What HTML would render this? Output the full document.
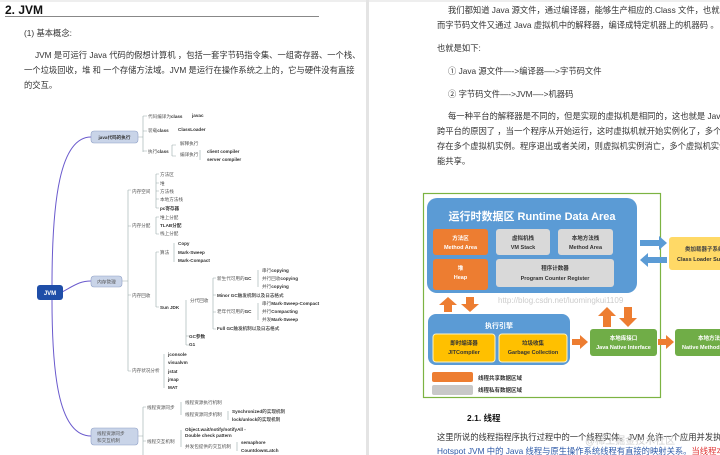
<!DOCTYPE html>
<html><head><meta charset="utf-8"><style>
html,body{margin:0;padding:0;background:#fff;width:720px;height:455px;overflow:hidden}
svg{display:block}
text{font-family:"Liberation Sans","Noto Sans CJK SC",sans-serif}
.t{font-size:8.3px;fill:#333}
.m{font-size:4.6px;fill:#555}
.mb{font-size:4.6px;fill:#333;font-weight:bold}
.w{fill:#fff;font-weight:bold}
</style></head><body>
<svg width="720" height="455" viewBox="0 0 720 455" xmlns="http://www.w3.org/2000/svg">
<rect width="720" height="455" fill="#fff"/>
<rect x="0" y="0" width="720" height="2" fill="#eee"/>
<rect x="366" y="0" width="3" height="455" fill="#e4e4e4"/>
<text x="5" y="14" style="font-size:12px;font-weight:bold;fill:#111">2. JVM</text>
<rect x="5" y="16" width="314" height="1" fill="#888"/>
<text x="24" y="36" class="t">(1) 基本概念:</text>
<text x="35" y="58" class="t">JVM 是可运行 Java 代码的假想计算机 ，包括一套字节码指令集、一组寄存器、一个栈、</text>
<text x="24" y="73" class="t">一个垃圾回收，堆 和 一个存储方法域。JVM 是运行在操作系统之上的，它与硬件没有直接</text>
<text x="24" y="88" class="t">的交互。</text>
<g fill="none" stroke="#6a5acd" stroke-width="1">
<path d="M52 286 C52 200 60 137 91 137"/>
<path d="M62 292 C75 285 80 281 91 281"/>
<path d="M52 300 C52 380 60 436 91 436"/>
</g>
<g fill="none" stroke="#9aa" stroke-width="0.6">
<path d="M138 137 H143 M143 116 V152 M143 116 H147 M143 131 H147 M143 151 H147"/>
<path d="M172 145 V156 M172 145 H176 M172 156 H176"/>
<path d="M200 150 V160"/>
<path d="M122 281 H128 M128 190 V371 M128 190 H131 M128 226 H131 M128 295 H131 M128 371 H131"/>
<path d="M156 174 V208 M156 174 H159 M156 183 H159 M156 191 H159 M156 199 H159 M156 208 H159"/>
<path d="M156 217 V234 M156 217 H159 M156 234 H159"/>
<path d="M156 252 V307 M156 252 H159 M156 307 H159"/>
<path d="M174 243 V262"/>
<path d="M186 300 V345 M186 336 H189 M186 345 H189"/>
<path d="M213 278 V329 M213 278 H216 M213 295 H216 M213 312 H216 M213 329 H216"/>
<path d="M258 270 V287 M258 303 V320"/>
<path d="M164 354 V388"/>
<path d="M138 436 H143 M143 407 V455 M143 407 H146 M143 441 H146"/>
<path d="M181 402 V415 M181 430 V447"/>
<path d="M228 411 V420 M237 442 V451"/>
</g>
<rect x="37" y="285" width="26" height="15" rx="3" fill="#1f4ea8"/>
<text x="50" y="295" text-anchor="middle" style="font-size:6px" class="w">JVM</text>
<rect x="91" y="131" width="47" height="12" rx="3" fill="#c9d4e8" stroke="#8fa0c6" stroke-width="0.6"/>
<text x="114.5" y="139" text-anchor="middle" class="mb">java代码的执行</text>
<rect x="91" y="276" width="31" height="11" rx="3" fill="#c9d4e8" stroke="#8fa0c6" stroke-width="0.6"/>
<text x="106.5" y="283.5" text-anchor="middle" class="m">内存管理</text>
<rect x="91" y="428" width="47" height="17" rx="3" fill="#c9d4e8" stroke="#8fa0c6" stroke-width="0.6"/>
<text x="97" y="435" class="m">线程资源同步</text><text x="97" y="442" class="m">和交互机制</text>
<text x="148" y="118" class="m">代码编译为<tspan class="mb">class</tspan></text>
<text x="192" y="117" class="mb">javac</text>
<text x="148" y="132" class="m">装载<tspan class="mb">class</tspan></text>
<text x="178" y="131" class="mb">ClassLoader</text>
<text x="148" y="153" class="m">执行<tspan class="mb">class</tspan></text>
<text x="180" y="145" class="m">解释执行</text>
<text x="180" y="156" class="m">编译执行</text>
<text x="207" y="153" class="mb">client compiler</text>
<text x="207" y="161" class="mb">server compiler</text>
<text x="132" y="193" class="m">内存空间</text>
<text x="160" y="176" class="m">方法区</text><text x="160" y="185" class="m">堆</text><text x="160" y="193" class="m">方法栈</text><text x="160" y="201" class="m">本地方法栈</text><text x="160" y="210" class="mb">pc寄存器</text>
<text x="132" y="227" class="m">内存分配</text>
<text x="160" y="219" class="m">堆上分配</text><text x="160" y="227" class="mb">TLAB分配</text><text x="160" y="235" class="m">栈上分配</text>
<text x="132" y="297" class="m">内存回收</text>
<text x="160" y="254" class="m">算法</text>
<text x="178" y="245" class="mb">Copy</text><text x="178" y="254" class="mb">Mark-Sweep</text><text x="178" y="262" class="mb">Mark-Compact</text>
<text x="160" y="309" class="mb">Sun JDK</text>
<text x="190" y="302" class="m">分代回收</text>
<text x="217" y="280" class="m">新生代可用的<tspan class="mb">GC</tspan></text>
<text x="262" y="272" class="m">串行<tspan class="mb">copying</tspan></text>
<text x="262" y="280" class="m">并行回收<tspan class="mb">copying</tspan></text>
<text x="262" y="288" class="m">并行<tspan class="mb">copying</tspan></text>
<text x="217" y="297" class="mb">Minor GC<tspan class="m">触发机制以及日志格式</tspan></text>
<text x="217" y="313" class="m">老年代可用的<tspan class="mb">GC</tspan></text>
<text x="262" y="305" class="m">串行<tspan class="mb">Mark-Sweep-Compact</tspan></text>
<text x="262" y="313" class="m">并行<tspan class="mb">Compacting</tspan></text>
<text x="262" y="321" class="m">并发<tspan class="mb">Mark-Sweep</tspan></text>
<text x="217" y="330" class="mb">Full GC<tspan class="m">触发机制以及日志格式</tspan></text>
<text x="189" y="338" class="mb">GC参数</text><text x="189" y="346" class="mb">G1</text>
<text x="132" y="372" class="m">内存状况分析</text>
<text x="168" y="356" class="mb">jconsole</text><text x="168" y="364" class="mb">visualvm</text><text x="168" y="373" class="mb">jstat</text><text x="168" y="381" class="mb">jmap</text><text x="168" y="389" class="mb">MAT</text>
<text x="147" y="409" class="m">线程资源同步</text>
<text x="185" y="404" class="m">线程资源执行机制</text>
<text x="185" y="416" class="m">线程资源同步机制</text>
<text x="232" y="413" class="mb">Synchronized<tspan class="m">的实现机制</tspan></text>
<text x="232" y="421" class="mb">lock/unlock<tspan class="m">的实现机制</tspan></text>
<text x="147" y="443" class="m">线程交互机制</text>
<text x="185" y="431" class="mb">Object.wait/notify/notifyAll -</text>
<text x="185" y="437" class="mb">Double check pattern</text>
<text x="185" y="448" class="m">并发包提供的交互机制</text>
<text x="241" y="444" class="mb">semaphore</text>
<text x="241" y="452" class="mb">CountdownLatch</text>
<text x="448" y="13" class="t">我们都知道 Java 源文件，通过编译器，能够生产相应的.Class 文件，也就是字节码文件，</text>
<text x="437" y="28" class="t">而字节码文件又通过 Java 虚拟机中的解释器，编译成特定机器上的机器码 。</text>
<text x="437" y="51" class="t">也就是如下:</text>
<text x="448" y="74" class="t">① Java 源文件—->编译器—->字节码文件</text>
<text x="448" y="97" class="t">② 字节码文件—->JVM—->机器码</text>
<text x="448" y="119" class="t">每一种平台的解释器是不同的，但是实现的虚拟机是相同的，这也就是 Java 为什么能够</text>
<text x="437" y="134" class="t">跨平台的原因了 ，当一个程序从开始运行，这时虚拟机就开始实例化了，多个程序启动就会</text>
<text x="437" y="149" class="t">存在多个虚拟机实例。程序退出或者关闭，则虚拟机实例消亡，多个虚拟机实例之间数据不</text>
<text x="437" y="164" class="t">能共享。</text>
<rect x="423.5" y="193.5" width="237" height="204" fill="#fff" stroke="#7cb342" stroke-width="1.2"/>
<rect x="427" y="198" width="210" height="95" rx="10" fill="#5b9bd5"/>
<text x="532" y="220" text-anchor="middle" style="font-size:11px" class="w">运行时数据区 Runtime Data Area</text>
<rect x="433" y="229" width="55" height="26" rx="3" fill="#ed7d31"/>
<text x="460.5" y="240" text-anchor="middle" style="font-size:5.5px" class="w">方法区</text><text x="460.5" y="249" text-anchor="middle" style="font-size:5.5px" class="w">Method Area</text>
<rect x="496" y="229" width="54" height="26" rx="3" fill="#d9d9d9"/>
<text x="523" y="240" text-anchor="middle" style="font-size:5.5px;font-weight:bold;fill:#333">虚拟机栈</text><text x="523" y="249" text-anchor="middle" style="font-size:5.5px;font-weight:bold;fill:#333">VM Stack</text>
<rect x="558" y="229" width="55" height="26" rx="3" fill="#d9d9d9"/>
<text x="585.5" y="240" text-anchor="middle" style="font-size:5.5px;font-weight:bold;fill:#333">本地方法栈</text><text x="585.5" y="249" text-anchor="middle" style="font-size:5.5px;font-weight:bold;fill:#333">Method Area</text>
<rect x="433" y="259" width="55" height="31" rx="3" fill="#ed7d31"/>
<text x="460.5" y="270" text-anchor="middle" style="font-size:5.5px" class="w">堆</text><text x="460.5" y="279" text-anchor="middle" style="font-size:5.5px" class="w">Heap</text>
<rect x="496" y="259" width="118" height="28" rx="3" fill="#d9d9d9"/>
<text x="555" y="270" text-anchor="middle" style="font-size:5.5px;font-weight:bold;fill:#333">程序计数器</text><text x="555" y="280" text-anchor="middle" style="font-size:5.5px;font-weight:bold;fill:#333">Program Counter Register</text>
<polygon points="640,240 659,240 659,236 667,243 659,250 659,246 640,246" fill="#5b9bd5"/>
<polygon points="667,257 648,257 648,253 640,260 648,267 648,263 667,263" fill="#5b9bd5"/>
<rect x="669" y="237" width="55" height="33" rx="3" fill="#ffd966"/>
<text x="685" y="251" style="font-size:5.5px;font-weight:bold;fill:#444">类加载器子系统</text>
<text x="677" y="261" style="font-size:5.5px;font-weight:bold;fill:#333">Class Loader Subsystem</text>
<polygon points="448,297 457,305 452,305 452,312 444,312 444,305 439,305" fill="#ed7d31"/>
<polygon points="466,297 474,297 474,304 479,304 470,312 461,304 466,304" fill="#ed7d31"/>
<polygon points="607,307 616,316 611,316 611,327 603,327 603,316 598,316" fill="#ed7d31"/>
<polygon points="624,307 632,307 632,318 637,318 628,327 619,318 624,318" fill="#ed7d31"/>
<text x="498" y="303" style="font-size:8px;fill:#ccc">http://blog.csdn.net/luomingkui1109</text>
<rect x="428" y="314" width="142" height="51" rx="8" fill="#5b9bd5"/>
<text x="499" y="328" text-anchor="middle" style="font-size:7px" class="w">执行引擎</text>
<rect x="433" y="334" width="62" height="28" rx="3" fill="#ffc000" stroke="#fff3c0" stroke-width="1"/>
<text x="464" y="345" text-anchor="middle" style="font-size:5.5px;font-weight:bold;fill:#333">即时编译器</text><text x="464" y="354" text-anchor="middle" style="font-size:5.5px;font-weight:bold;fill:#333">JITCompiler</text>
<rect x="499" y="334" width="68" height="28" rx="3" fill="#ffc000" stroke="#fff3c0" stroke-width="1"/>
<text x="533" y="345" text-anchor="middle" style="font-size:5.5px;font-weight:bold;fill:#333">垃圾收集</text><text x="533" y="354" text-anchor="middle" style="font-size:5.5px;font-weight:bold;fill:#333">Garbage Collection</text>
<polygon points="572,339 580,339 580,335 588,342 580,349 580,345 572,345" fill="#ed7d31"/>
<rect x="590" y="329" width="67" height="27" rx="3" fill="#70ad47"/>
<text x="623.5" y="340" text-anchor="middle" style="font-size:5.5px" class="w">本地库接口</text><text x="623.5" y="349" text-anchor="middle" style="font-size:5.5px" class="w">Java Native Interface</text>
<polygon points="658,339 666,339 666,335 674,342 666,349 666,345 658,345" fill="#ed7d31"/>
<rect x="675" y="329" width="50" height="27" rx="3" fill="#70ad47"/>
<text x="698" y="340" style="font-size:5.5px" class="w">本地方法库</text><text x="682" y="349" style="font-size:5.5px" class="w">Native Methods</text>
<rect x="432" y="372" width="41" height="10" rx="2" fill="#ed7d31"/>
<text x="478" y="380" style="font-size:5.5px;font-weight:bold;fill:#333">线程共享数据区域</text>
<rect x="432" y="385" width="41" height="10" rx="2" fill="#c8c8c8"/>
<text x="478" y="392" style="font-size:5.5px;font-weight:bold;fill:#333">线程私有数据区域</text>
<text x="467" y="421" style="font-size:8.5px;font-weight:bold;fill:#111">2.1. 线程</text>
<text x="437" y="440" class="t">这里所说的线程指程序执行过程中的一个线程实体。JVM 允许一个应用并发执行多个线程。</text>
<text x="437" y="454" class="t" style="fill:#2e5aa8">Hotspot JVM 中的 Java 线程与原生操作系统线程有直接的映射关系。<tspan style="fill:#e03030">当线程本地存储、</tspan></text>
<text x="585" y="444" style="font-size:10px;fill:#bbb;opacity:0.7">@稀土掘金技术社区</text>
</svg>
</body></html>
